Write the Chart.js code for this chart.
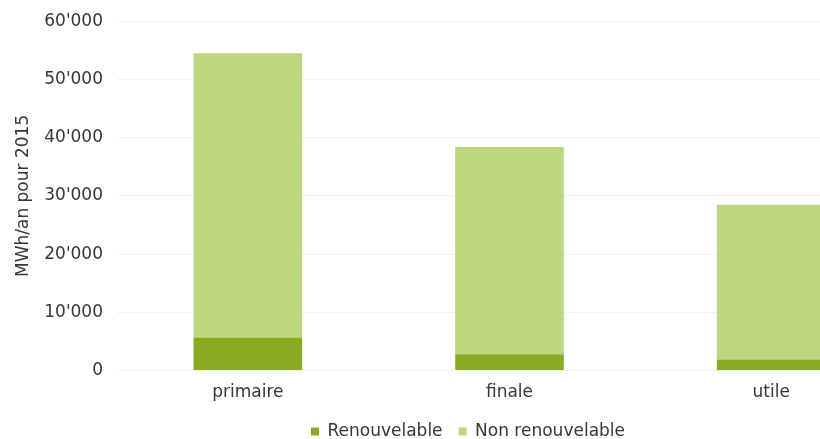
<!DOCTYPE html>
<html>
<head>
<meta charset="utf-8">
<script src="https://cdn.jsdelivr.net/npm/chart.js@4/dist/chart.umd.min.js"></script>
<style>
  html, body { margin: 0; padding: 0; background: #fff; overflow: hidden; }
  #wrap { width: 903px; height: 453px; margin-top: -3px; position: relative; }
</style>
</head>
<body>
<div id="wrap"><canvas id="energyChart"></canvas></div>
<script>
// Energie primaire / finale / utile, MWh/an pour 2015
const categories = ['primaire', 'finale', 'utile'];
const renouvelable = [5700, 2800, 1900];
const nonRenouvelable = [48800, 35600, 26600];
const yTicks = [0, 10000, 20000, 30000, 40000, 50000, 60000];

const DARK_GREEN = '#8aaa22';
const LIGHT_GREEN = '#bcd77f';
const TEXT_COLOR = '#363636';
const FONT = 'DejaVu Sans';

// 60000 -> 60'000
const formatTick = (v) => String(v).replace(/\B(?=(\d{3})+(?!\d))/g, "'");

// the legend sits a little right of the canvas centre in the original
const legendShift = {
    id: 'legendShift',
    afterLayout: (chart) => {
        if (!chart.legend) return;
        chart.legend.left += 17;
        chart.legend.right += 17;
    }
};

const ctx = document.getElementById('energyChart').getContext('2d');

const chart = new Chart(ctx, {
    type: 'bar',
    data: {
        labels: categories,
        datasets: [
            {
                label: 'Renouvelable',
                data: renouvelable,
                backgroundColor: DARK_GREEN,
                borderWidth: 0
            },
            {
                label: 'Non renouvelable',
                data: nonRenouvelable,
                backgroundColor: LIGHT_GREEN,
                borderWidth: 0
            }
        ]
    },
    options: {
        responsive: true,
        maintainAspectRatio: false,
        animation: false,
        layout: {
            padding: { top: 6, right: 1, bottom: 0, left: 0 }
        },
        datasets: {
            bar: { categoryPercentage: 1.0, barPercentage: 0.415 }
        },
        scales: {
            x: {
                stacked: true,
                grid: { display: false },
                border: { display: false },
                ticks: {
                    color: TEXT_COLOR,
                    padding: 4,
                    font: { family: FONT, size: 17 }
                }
            },
            y: {
                stacked: true,
                min: 0,
                max: 60000,
                afterBuildTicks: (scale) => {
                    scale.ticks = yTicks.map(v => ({ value: v }));
                },
                afterFit: (scale) => {
                    scale.width = 117;
                },
                grid: { color: '#f3f3f3', drawTicks: false },
                border: { display: false },
                ticks: {
                    color: TEXT_COLOR,
                    padding: 14,
                    font: { family: FONT, size: 17 },
                    callback: (value) => formatTick(value)
                },
                title: {
                    display: true,
                    text: 'MWh/an pour 2015',
                    color: TEXT_COLOR,
                    font: { family: FONT, size: 17 },
                    padding: { top: 13, bottom: 0 }
                }
            }
        },
        plugins: {
            legend: {
                position: 'bottom',
                labels: {
                    color: TEXT_COLOR,
                    boxWidth: 8,
                    boxHeight: 8,
                    padding: 16,
                    font: { family: FONT, size: 17 }
                }
            },
            tooltip: { enabled: false }
        }
    },
    plugins: [legendShift]
});
</script>
</body>
</html>
